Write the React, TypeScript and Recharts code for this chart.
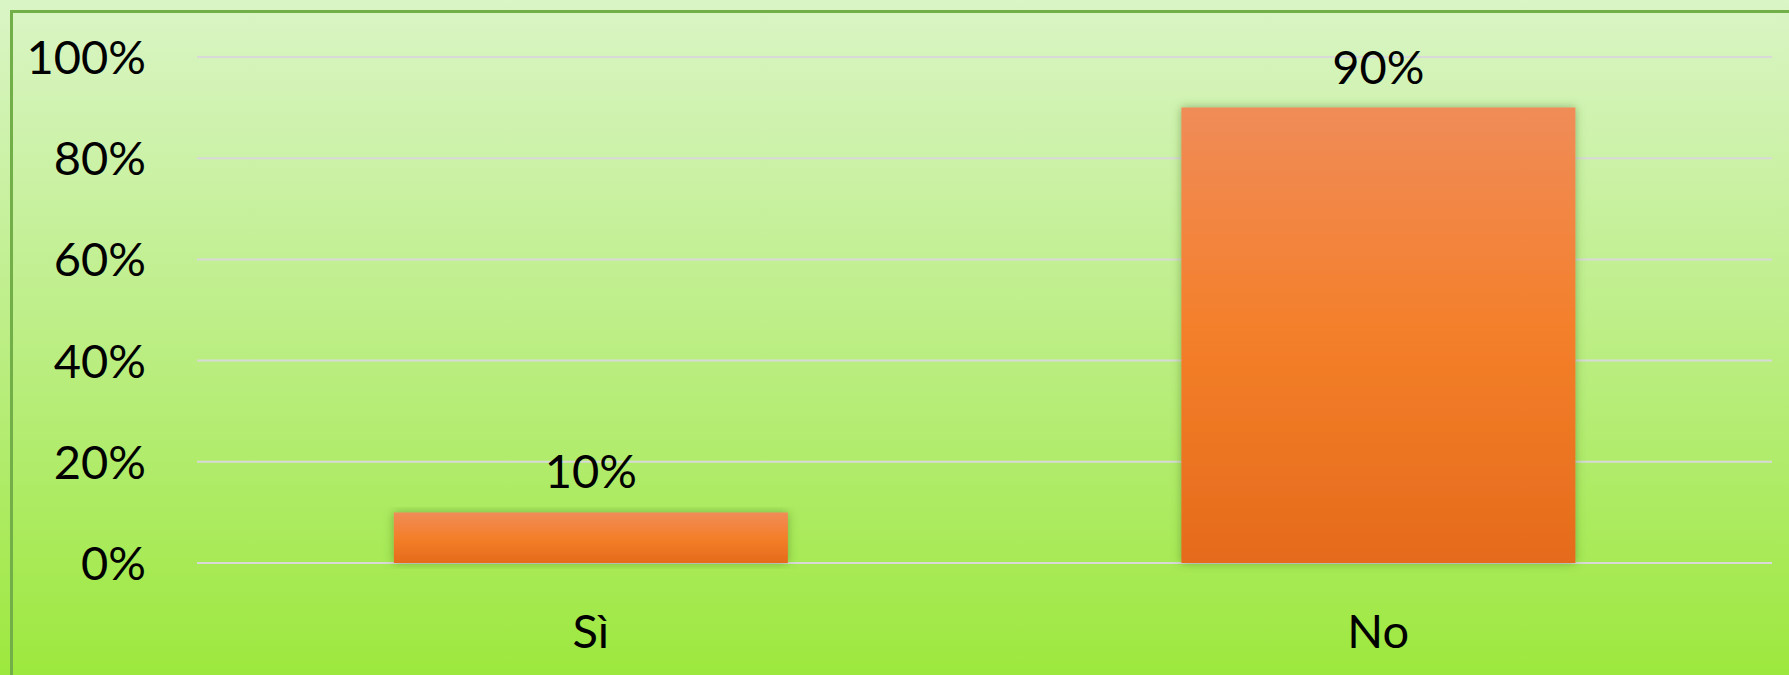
import React from "react";
import { BarChart, Bar, XAxis, YAxis, CartesianGrid, LabelList } from "recharts";

const categories = ["Sì", "No"];
const values = [10, 90];
const yTicks = [0, 20, 40, 60, 80, 100];

const data = categories.map((c, i) => ({ name: c, value: values[i] }));

const W = 1789;
const H = 675;
const FONT = "Lato, 'Liberation Sans', sans-serif";
const FS = 47;

const YTick = (props: any) => {
  const { x, y, payload } = props;
  return (
    <text x={x} y={y} dy="0.36em" textAnchor="end" fontFamily={FONT} fontSize={FS} fill="#000">
      {`${payload.value}%`}
    </text>
  );
};

const XTick = (props: any) => {
  const { x, y, payload } = props;
  return (
    <text x={x} y={y} textAnchor="middle" fontFamily={FONT} fontSize={FS} fill="#000">
      {payload.value}
    </text>
  );
};

export default function App() {
  return (
    <div
      style={{
        position: "absolute",
        left: 0,
        top: 0,
        width: W,
        height: H,
        overflow: "hidden",
        background: "linear-gradient(to bottom, #DAF5C6 0%, #BCEE85 50%, #9DE83E 100%)",
      }}
    >
      <div
        style={{
          position: "absolute",
          left: 10,
          top: 10,
          width: W + 40,
          height: H + 40,
          border: "3px solid #72AF49",
          boxSizing: "border-box",
        }}
      />
      <div style={{ position: "absolute", left: 0, top: 0 }}>
        <BarChart
          width={W}
          height={H}
          data={data}
          margin={{ top: 57, right: 17, bottom: 0, left: 0 }}
          barCategoryGap="25%"
        >
          <defs>
            <linearGradient id="barGrad" x1="0" y1="0" x2="0" y2="1">
              <stop offset="0%" stopColor="#F08C58" />
              <stop offset="50%" stopColor="#F47F2A" />
              <stop offset="100%" stopColor="#E56B1B" />
            </linearGradient>
            <filter id="barShadow" x="-10%" y="-10%" width="120%" height="120%">
              <feDropShadow dx="0" dy="0" stdDeviation="5" floodColor="#3d6b1a" floodOpacity="0.5" />
            </filter>
          </defs>
          <CartesianGrid vertical={false} stroke="#D9D9D9" strokeWidth={2} />
          <XAxis
            dataKey="name"
            axisLine={false}
            tickLine={false}
            tickSize={0}
            tickMargin={85}
            height={112}
            tick={<XTick />}
            interval={0}
          />
          <YAxis
            domain={[0, 100]}
            ticks={yTicks}
            axisLine={false}
            tickLine={false}
            tickSize={0}
            tickMargin={51}
            width={197}
            tick={<YTick />}
            interval={0}
          />
          <Bar dataKey="value" fill="url(#barGrad)" filter="url(#barShadow)" isAnimationActive={false}>
            <LabelList
              dataKey="value"
              position="top"
              offset={24}
              formatter={(v: any) => `${v}%`}
              style={{ fontFamily: FONT, fontSize: FS, fill: "#000" }}
            />
          </Bar>
        </BarChart>
      </div>
    </div>
  );
}
